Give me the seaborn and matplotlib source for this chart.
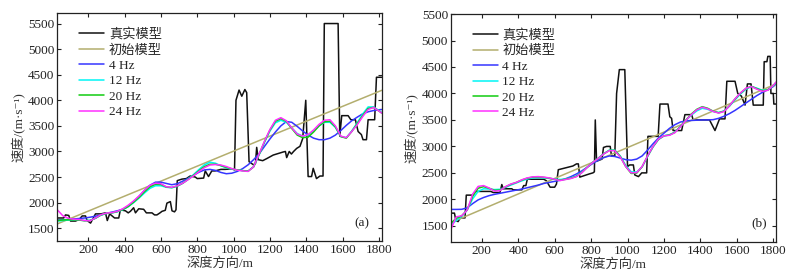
import matplotlib
matplotlib.use('Agg')
import matplotlib.pyplot as plt
import seaborn as sns

# depth grid of the inverted curves (m)
depth = [30, 60, 90, 120, 150, 180, 210, 240, 270, 300, 330, 360, 390, 420, 450, 480, 510, 540, 570, 600,
         630, 660, 690, 720, 750, 780, 810, 840, 870, 900, 930, 960, 990, 1020, 1050, 1080, 1110, 1140, 1170, 1200,
         1230, 1260, 1290, 1320, 1350, 1380, 1410, 1440, 1470, 1500, 1530, 1560, 1590, 1620, 1650, 1680, 1710, 1740, 1770, 1800,
         1815]

# ---------- (a) ----------
true_a_x = [30, 65, 75, 93, 103, 130, 150, 167, 185, 194, 213, 222, 240, 270, 295, 305, 318, 345, 368, 377,
            405, 420, 432, 450, 460, 478, 505, 520, 551, 565, 578, 595, 606, 624, 633, 652, 661, 675, 683, 690,
            716, 740, 761, 789, 800, 835, 844, 862, 880, 899, 930, 953, 990, 1005, 1013, 1030, 1045, 1062, 1072, 1085,
            1109, 1120, 1127, 1136, 1160, 1182, 1218, 1273, 1285, 1292, 1306, 1318, 1330, 1347, 1365, 1380, 1397, 1410, 1429, 1438,
            1456, 1475, 1492, 1499, 1575, 1584, 1595, 1630, 1645, 1670, 1685, 1703, 1712, 1731, 1740, 1776, 1786, 1815]
true_a_y = [1700, 1700, 1760, 1750, 1640, 1640, 1670, 1740, 1740, 1650, 1600, 1660, 1780, 1780, 1800, 1650, 1780, 1700, 1700, 1860,
            1840, 1800, 1830, 1900, 1800, 1880, 1870, 1800, 1800, 1760, 1760, 1800, 1830, 1850, 1990, 2020, 1840, 1820, 1860, 2430,
            2460, 2470, 2520, 2500, 2470, 2480, 2620, 2510, 2620, 2620, 2650, 2650, 2660, 2640, 4000, 4200, 4080, 4210, 4150, 2800,
            2740, 2760, 3080, 2840, 2820, 2860, 2930, 2990, 3000, 2880, 3000, 2950, 3000, 3060, 3100, 3250, 4000, 2510, 2510, 2670,
            2470, 2520, 2520, 5500, 5500, 3300, 3700, 3700, 3620, 3620, 3390, 3330, 3230, 3230, 3620, 3620, 4450, 4450]
init_a_x = [30, 600, 1200, 1815]
init_a_y = [1585, 2420, 3300, 4195]
hz4_a = [1660, 1665, 1670, 1680, 1690, 1700, 1715, 1735, 1760, 1790, 1815, 1840, 1870, 1930, 2020, 2125, 2240, 2340, 2400, 2400,
         2375, 2350, 2370, 2420, 2475, 2535, 2595, 2640, 2650, 2630, 2590, 2565, 2575, 2610, 2665, 2740, 2840, 2950, 3100, 3245,
         3380, 3500, 3585, 3570, 3490, 3400, 3320, 3260, 3230, 3230, 3260, 3320, 3410, 3510, 3600, 3670, 3735, 3775, 3800, 3815,
         3820]
hz12_a = [1640, 1650, 1660, 1665, 1660, 1650, 1655, 1695, 1755, 1790, 1800, 1820, 1860, 1920, 2000, 2090, 2190, 2280, 2330, 2330,
          2300, 2290, 2320, 2380, 2460, 2550, 2650, 2740, 2790, 2770, 2720, 2680, 2655, 2640, 2625, 2620, 2700, 2930, 3180, 3400,
          3560, 3610, 3570, 3460, 3350, 3300, 3320, 3400, 3500, 3570, 3570, 3470, 3290, 3270, 3400, 3560, 3730, 3870, 3870, 3800,
          3760]
hz20_a = [1650, 1660, 1665, 1665, 1660, 1645, 1650, 1695, 1760, 1790, 1800, 1825, 1865, 1925, 2010, 2105, 2215, 2310, 2360, 2355,
          2305, 2295, 2325, 2380, 2455, 2535, 2625, 2705, 2750, 2750, 2725, 2690, 2660, 2640, 2625, 2615, 2700, 2940, 3190, 3420,
          3590, 3640, 3590, 3450, 3320, 3270, 3280, 3380, 3500, 3580, 3590, 3480, 3290, 3260, 3390, 3540, 3700, 3840, 3860, 3790,
          3750]
hz24_a = [1860, 1745, 1695, 1675, 1670, 1650, 1645, 1700, 1765, 1795, 1805, 1830, 1880, 1950, 2035, 2130, 2245, 2340, 2380, 2370,
          2310, 2300, 2330, 2380, 2450, 2525, 2610, 2685, 2735, 2745, 2735, 2705, 2665, 2635, 2620, 2610, 2700, 2950, 3200, 3430,
          3610, 3660, 3600, 3460, 3340, 3300, 3330, 3420, 3530, 3610, 3620, 3500, 3300, 3270, 3390, 3520, 3680, 3820, 3860, 3790,
          3750]

# ---------- (b) ----------
true_b_x = [30, 50, 58, 70, 82, 108, 115, 150, 165, 250, 262, 300, 310, 318, 365, 372, 420, 430, 442, 450,
            540, 555, 575, 600, 610, 620, 700, 720, 730, 738, 790, 810, 818, 823, 830, 845, 860, 868, 885, 905,
            912, 930, 940, 955, 985, 1000, 1012, 1032, 1040, 1060, 1078, 1105, 1112, 1168, 1178, 1222, 1232, 1242, 1250, 1297,
            1315, 1352, 1360, 1450, 1480, 1505, 1535, 1545, 1590, 1605, 1625, 1645, 1658, 1678, 1690, 1745, 1750, 1765, 1770, 1783,
            1787, 1800, 1803, 1815]
true_b_y = [1740, 1740, 1600, 1580, 1650, 1650, 2080, 2080, 2150, 2150, 2130, 2130, 2280, 2200, 2200, 2180, 2180, 2260, 2260, 2380,
            2380, 2350, 2230, 2230, 2290, 2560, 2630, 2670, 2670, 2420, 2480, 2500, 2520, 3500, 2720, 2740, 2760, 2980, 3000, 3000,
            2820, 2820, 4000, 4450, 4450, 2620, 2650, 2650, 2460, 2430, 2500, 2500, 3190, 3190, 3800, 3800, 3560, 3530, 3300, 3300,
            3600, 3600, 3500, 3500, 3300, 3520, 3520, 4230, 4230, 4000, 3950, 3780, 4180, 4180, 3780, 3780, 4600, 4600, 4700, 4700,
            4000, 4000, 3800, 3800]
init_b_x = [30, 600, 1200, 1815]
init_b_y = [1560, 2395, 3270, 4180]
hz4_b = [1810, 1810, 1812, 1840, 1920, 1990, 2035, 2070, 2095, 2115, 2135, 2155, 2175, 2195, 2220, 2245, 2270, 2300, 2320, 2340,
         2360, 2390, 2430, 2480, 2540, 2610, 2680, 2740, 2790, 2820, 2810, 2780, 2750, 2740, 2760, 2820, 2930, 3050, 3160, 3250,
         3340, 3410, 3460, 3480, 3490, 3495, 3500, 3500, 3505, 3530, 3570, 3620, 3680, 3750, 3820, 3890, 3960, 4020, 4070, 4130,
         4180]
hz12_b = [1520, 1600, 1680, 1800, 2010, 2150, 2200, 2195, 2185, 2190, 2225, 2270, 2310, 2350, 2385, 2405, 2410, 2405, 2395, 2385,
          2375, 2385, 2405, 2445, 2515, 2610, 2700, 2780, 2865, 2930, 2930, 2820, 2640, 2520, 2515, 2615, 2810, 2990, 3130, 3200,
          3220, 3270, 3380, 3490, 3590, 3670, 3720, 3700, 3660, 3640, 3670, 3760, 3880, 3990, 4080, 4130, 4100, 4060, 4070, 4140,
          4200]
hz20_b = [1550, 1640, 1690, 1800, 2060, 2210, 2240, 2210, 2170, 2175, 2235, 2285, 2320, 2365, 2400, 2420, 2425, 2415, 2400, 2380,
          2360, 2380, 2400, 2435, 2510, 2610, 2700, 2775, 2860, 2925, 2925, 2810, 2620, 2490, 2495, 2615, 2815, 2995, 3135, 3200,
          3215, 3265, 3375, 3495, 3610, 3700, 3750, 3720, 3665, 3635, 3665, 3770, 3895, 4005, 4095, 4135, 4090, 4050, 4065, 4145,
          4210]
hz24_b = [1430, 1670, 1690, 1800, 2100, 2245, 2260, 2215, 2155, 2165, 2240, 2290, 2320, 2370, 2405, 2425, 2430, 2420, 2405, 2380,
          2355, 2375, 2395, 2430, 2505, 2610, 2700, 2775, 2860, 2920, 2920, 2800, 2620, 2500, 2505, 2620, 2820, 3000, 3140, 3200,
          3210, 3260, 3370, 3490, 3600, 3690, 3740, 3710, 3660, 3630, 3660, 3770, 3900, 4010, 4100, 4130, 4080, 4040, 4060, 4150,
          4215]

labels = ['真实模型', '初始模型', '4 Hz', '12 Hz', '20 Hz', '24 Hz']
colors = ['#111111', '#b3ae6e', '#3535ff', '#00f5f5', '#11cc11', '#ff30ff']

sns.set_theme(style='ticks')
plt.rcParams['font.family'] = ['Liberation Serif', 'Noto Sans CJK SC', 'DejaVu Sans']
plt.rcParams['axes.unicode_minus'] = False

fig = plt.figure(figsize=(8.05, 2.75), dpi=100)
ax_a = fig.add_axes([0.0712, 0.1236, 0.4030, 0.8280])
ax_b = fig.add_axes([0.5600, 0.1210, 0.4040, 0.8280])

panels = [
    (ax_a, true_a_x, true_a_y, init_a_x, init_a_y, [hz4_a, hz12_a, hz20_a, hz24_a], (1250, 5700), '(a)', 0.938),
    (ax_b, true_b_x, true_b_y, init_b_x, init_b_y, [hz4_b, hz12_b, hz20_b, hz24_b], (1200, 5500), '(b)', 0.948),
]

for ax, tx, ty, ix, iy, inv, ylim, tag, tagx in panels:
    sns.lineplot(x=tx, y=ty, ax=ax, color=colors[0], lw=1.1, label=labels[0], estimator=None, sort=False)
    sns.lineplot(x=ix, y=iy, ax=ax, color=colors[1], lw=1.1, label=labels[1], estimator=None, sort=False)
    for vals, lab, c in zip(inv, labels[2:], colors[2:]):
        sns.lineplot(x=depth, y=vals, ax=ax, color=c, lw=1.1, label=lab, estimator=None, sort=False)

    ax.set_xlim(30, 1815)
    ax.set_ylim(*ylim)
    ax.set_xticks(range(200, 1801, 200))
    ax.set_yticks(range(1500, 5501, 500))
    ax.tick_params(direction='in', top=True, right=True, length=3, width=0.8, labelsize=9.5, pad=2, colors='#222222')
    for s in ax.spines.values():
        s.set_linewidth(0.9)
        s.set_color('#222222')
    ax.set_xlabel('深度方向/m', fontsize=9.5, labelpad=1, color='#333333')
    ax.set_ylabel('速度/(m·s⁻¹)', fontsize=9.5, labelpad=2, color='#333333')
    ax.text(tagx, 0.053, tag, transform=ax.transAxes, fontsize=9.5, ha='center', va='bottom', color='#222222')
    ax.legend(loc='upper left', bbox_to_anchor=(0.055, 0.952), frameon=False, fontsize=9.5,
              handlelength=1.9, handletextpad=0.35, labelspacing=0.24, borderaxespad=0, borderpad=0.3)

fig.savefig('out.png', dpi=100)
